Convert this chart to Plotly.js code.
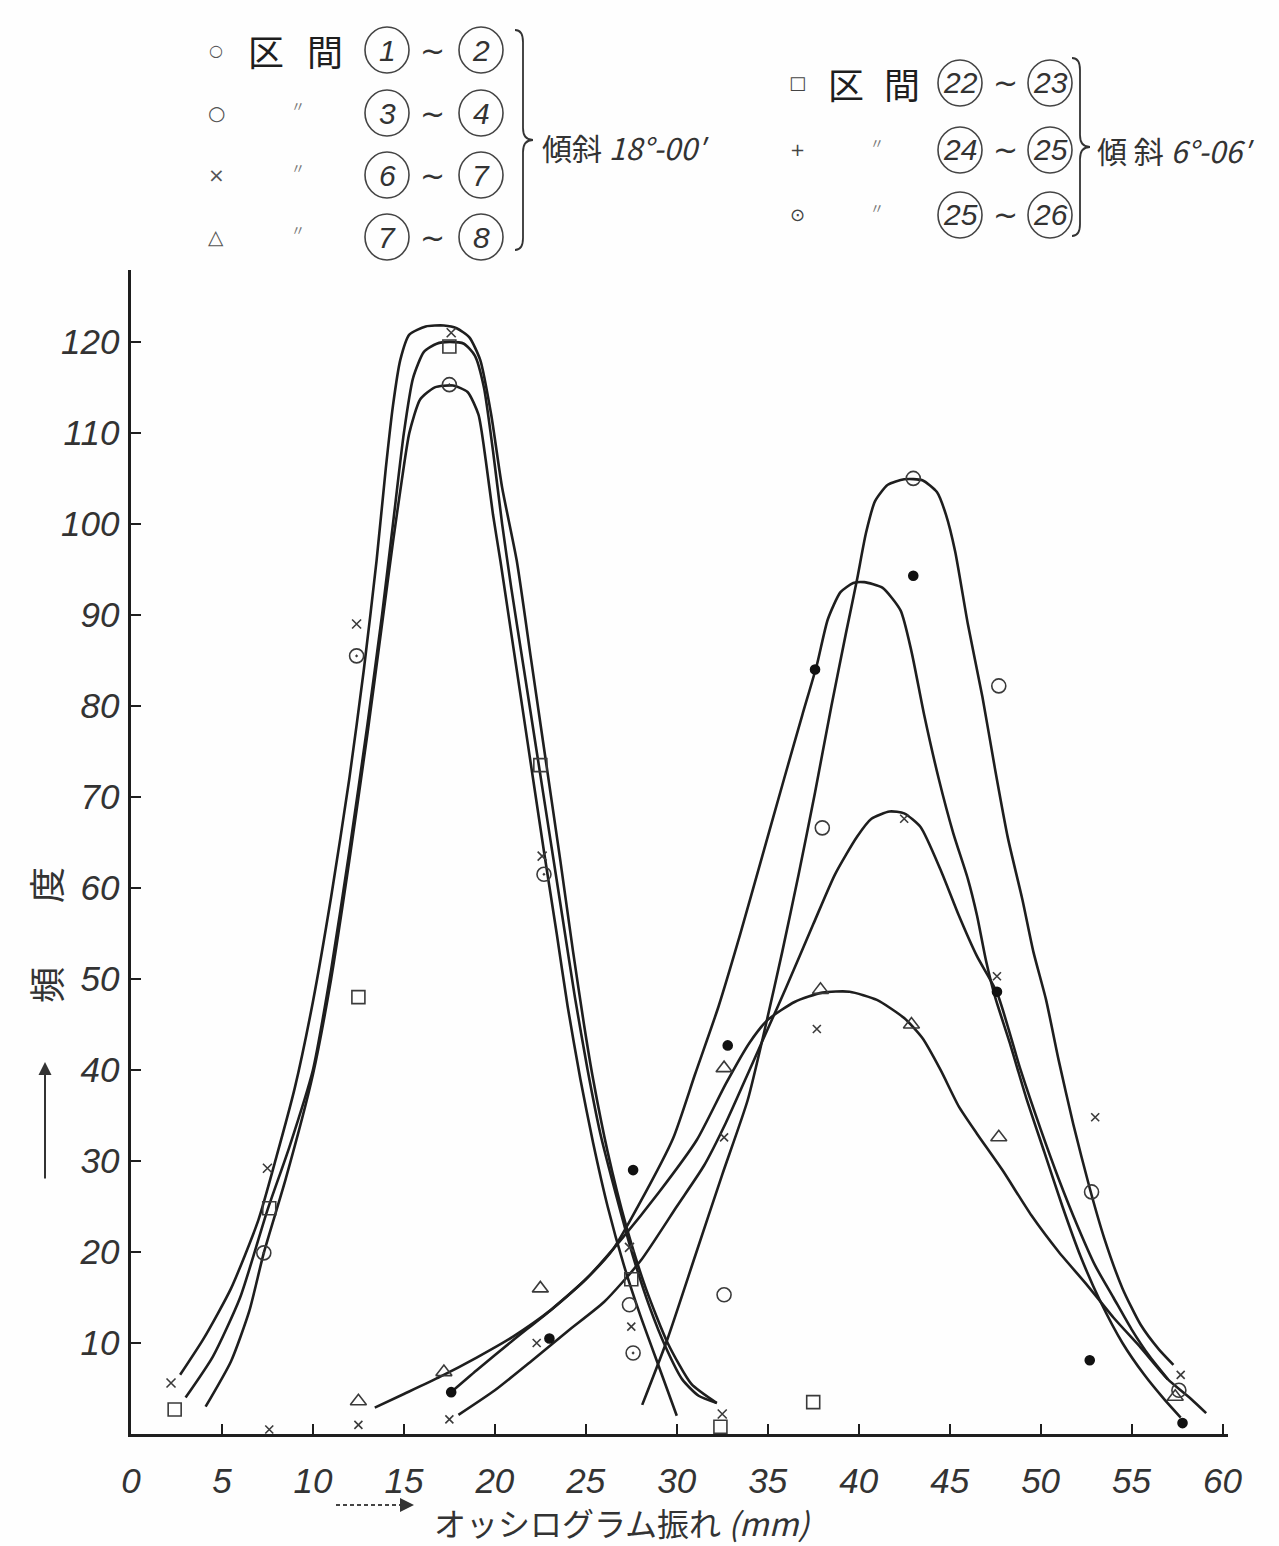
<!DOCTYPE html>
<html>
<head>
<meta charset="utf-8">
<script src="https://cdn.plot.ly/plotly-3.0.1.min.js"></script>
<style>body{margin:0;background:#fefefe;} #chart{width:1279px;height:1546px;}</style>
</head>
<body>
<div id="chart"></div>
<script>
// ---------- tick labels ----------
const xTickVals = [0,5,10,15,20,25,30,35,40,45,50,55,60];
const xTickText = ["0","5","10","15","20","25","30","35","40","45","50","55","60"];
const yTickVals = [10,20,30,40,50,60,70,80,90,100,110,120];
const yTickText = ["10","20","30","40","50","60","70","80","90","100","110","120"];

// ---------- observed points ----------
// 区間 22~23 (□)
const s2223X = [2.4, 7.6, 12.5, 17.5, 22.5, 27.5, 32.4, 37.5];
const s2223Y = [2.7, 24.8, 48.0, 119.5, 73.5, 17.0, 0.8, 3.5];
// 区間 24~25 (+)
const s2425X = [2.2, 7.5, 12.4, 17.6, 22.6, 27.4, 32.5];
const s2425Y = [5.6, 29.2, 89.0, 121.0, 63.5, 20.5, 2.2];
// 区間 25~26 (⊙)
const s2526X = [7.3, 12.4, 17.5, 22.7, 27.6];
const s2526Y = [19.9, 85.5, 115.3, 61.5, 8.9];
// 区間 1~2 (●)
const s0102X = [17.6, 23.0, 27.6, 32.8, 37.6, 43.0, 47.6, 52.7, 57.8];
const s0102Y = [4.6, 10.5, 29.0, 42.7, 84.0, 94.3, 48.6, 8.1, 1.2];
// 区間 3~4 (○)
const s0304X = [27.4, 32.6, 38.0, 43.0, 47.7, 52.8, 57.6];
const s0304Y = [14.2, 15.3, 66.6, 105.0, 82.2, 26.6, 4.8];
// 区間 6~7 (×)
const s0607X = [7.6, 12.5, 17.5, 22.3, 27.5, 32.6, 37.7, 42.5, 47.6, 53.0, 57.7];
const s0607Y = [0.5, 1.0, 1.6, 10.0, 11.8, 32.6, 44.5, 67.6, 50.3, 34.8, 6.5];
// 区間 7~8 (△)
const s0708X = [12.5, 17.2, 22.5, 32.6, 37.9, 42.9, 47.7, 57.4];
const s0708Y = [3.6, 6.8, 16.0, 40.2, 48.8, 45.0, 32.6, 4.1];

// ---------- hand-drawn curves ----------
const cL2425X = [2.7,4,5.5,7,8,9,10,11,12,12.8,13.5,14,14.4,14.8,15.3,16.2,17.2,17.9,18.6,19.2,19.8,20.4,21.2,22,22.8,23.6,24.3,24.9,25.4,26.2,27.2,28.3,29.5,30.8,32.2];
const cL2425Y = [6.5,10.5,16,23.5,30.5,38,47.5,59,72,84,96,106,113,118,120.8,121.7,121.8,121.5,120.5,118,112,104,96,85,74,63,53,45,39,31,23,16,10,5.5,3.4];
const cL2223X = [3,4.5,6,7.5,8.7,10,11,12,13,13.8,14.4,15,15.5,16.1,16.8,17.5,18.3,18.9,19.4,19.9,20.4,20.9,21.6,22.3,23,23.7,24.4,25.1,25.8,26.7,27.6,28.5,29.4,30.3,31.2,32.2];
const cL2223Y = [4,8.5,15,24.6,31.5,40,51,64,78,90,100,110,116,118.9,119.8,120,119.8,118.5,115,108,100,93,84,75,66,57,48,40,33,26,19.5,14,9.5,6,4.2,3.4];
const cL2526X = [4.1,5.5,6.5,7.3,8.5,10,11,12,13,13.8,14.4,14.9,15.3,15.9,16.7,17.7,18.5,19.1,19.5,19.9,20.3,20.9,21.5,22.1,22.7,23.4,24,24.7,25.4,26.2,27.1,28,29,30];
const cL2526Y = [3,8,13.5,19.9,28,39.5,50,63,77,89,98,105,110,113.7,115,115.2,114.5,112,107,101,96,88,80,72,64,55,47,39,32,25,18.5,13,7.5,2];

const cR0304X = [28.1,29.5,31,32.5,33.9,34.9,35.8,36.7,37.6,38.5,39.3,39.9,40.4,40.9,41.6,42.5,43.5,44.3,44.8,45.3,46,46.8,47.5,48.2,49,49.6,50.3,51,51.8,52.7,53.5,54.5,55.5,56.5,57.3];
const cR0304Y = [3.2,10.5,19.5,28.5,36.7,45,53,61.5,70.5,80,88,93.8,99,102.5,104.3,104.9,104.8,103.5,101,97,89,81,73,65.5,58.7,53,47.7,41,34,27,21.5,16,12,9.3,7.6];
const cR0102X = [17.6,19,21,23,25,26.5,28,29.8,31,32.3,33.5,34.7,35.9,36.9,37.7,38.3,39,39.7,40.3,41.3,42.3,42.9,43.6,44.4,45.2,46,46.5,47,47.5,48.3,49.2,50.2,51.2,52.2,53.3,54.5,55.7,56.8,57.7];
const cR0102Y = [4.6,7,10.3,13.5,17,20.3,25.5,32.5,39.5,47,55,63.5,72,79,84.5,89.5,92.5,93.5,93.6,93,90.5,86,79,72,66,61,57,52,48,43,37,31,25,19.5,14.5,10,6.5,3.8,1.8];
const cR0607X = [18,20,22,24,26,28,30,31.5,32.7,34,35,36,37.5,38.7,39.9,40.7,41.7,42.5,43.4,44.5,45.5,46.5,47.6,48.9,50,51,52,53,54,55,56,57];
const cR0607Y = [2.1,4.8,8,11.3,14.5,19,25,29.5,34.2,40,44.5,49,56,61.5,65.6,67.6,68.4,68.2,66.7,62,57,52.5,48.5,40,33.5,28,23,18.5,15,11.5,8.5,6];
const cR0708X = [13.4,15,17,19,21,23,25,27,29,31.1,32.7,34,35,36.5,38,39.5,41,42.5,43.5,44.5,45.5,46.5,47.9,49.5,51,52.5,54,55.5,57,58.3,59.1];
const cR0708Y = [2.9,4.4,6.3,8.4,10.7,13.5,17,21.5,26.5,32.3,38.5,43,45.5,47.5,48.5,48.6,47.7,45.7,43.5,40,36,33,29,24,20,16.5,12.8,9.5,6,3.8,2.3];

// ---------- text ----------
const legendLeftMarks = ["○","○","×","△"];
const legendLeftPairs = [["1","2"],["3","4"],["6","7"],["7","8"]];
const legendRightMarks = ["□","+","⊙"];
const legendRightPairs = [["22","23"],["24","25"],["25","26"]];
const slopeLeftText = "傾斜 <i>18°-00′</i>";
const slopeRightText = "傾 斜 <i>6°-06′</i>";
const xTitleText = "オッシログラム振れ <i>(mm)</i>";
const yTitleChars = ["頻","度"];

// ---------- geometry helpers (pixel -> paper) ----------
const PL = 131, PR = 1228, PT = 270, PB = 1434;
const px = v => (v - PL) / (PR - PL);
const py = v => (PB - v) / (PB - PT);

const INK = "#1e1e1e";
const MARK = "#3a3a3a";
const NUM = "Liberation Sans Narrow, Liberation Sans, Arial Narrow, sans-serif";
const JP = "Noto Sans CJK JP, Noto Sans CJK SC, sans-serif";

function curve(x, y) {
  return {x: x, y: y, type: "scatter", mode: "lines", showlegend: false, hoverinfo: "skip",
    line: {color: INK, width: 2.6, shape: "spline", smoothing: 0.6}};
}
function pts(x, y, symbol, size, filled) {
  return {x: x, y: y, type: "scatter", mode: "markers", showlegend: false, cliponaxis: false,
    marker: {symbol: symbol, size: size, color: filled ? "#111" : MARK,
      line: {color: filled ? "#111" : MARK, width: 1.6}}};
}

const traces = [
  curve(cL2425X, cL2425Y), curve(cL2223X, cL2223Y), curve(cL2526X, cL2526Y),
  curve(cR0304X, cR0304Y), curve(cR0102X, cR0102Y), curve(cR0607X, cR0607Y), curve(cR0708X, cR0708Y),
  pts(s2223X, s2223Y, "square-open", 13, false),
  pts(s2425X, s2425Y, "x-thin-open", 9, false),
  pts(s2526X, s2526Y, "circle-open-dot", 14, false),
  pts(s0102X, s0102Y, "circle", 9, true),
  pts(s0304X, s0304Y, "circle-open", 14, false),
  pts(s0607X, s0607Y, "x-thin-open", 8, false),
  pts(s0708X, s0708Y, "triangle-up-open", 14, false)
];

const annotations = [];
const shapes = [];
function txt(text, x, y, size, opts) {
  annotations.push(Object.assign({xref: "paper", yref: "paper", x: px(x), y: py(y), text: text,
    showarrow: false, xanchor: "center", yanchor: "middle",
    font: {family: JP, size: size, color: INK}}, opts || {}));
}
function circled(num, cx, cy) {
  shapes.push({type: "circle", xref: "paper", yref: "paper",
    x0: px(cx - 22), x1: px(cx + 22), y0: py(cy + 23), y1: py(cy - 23),
    line: {color: "#444", width: 1.6}});
  txt("<i>" + num + "</i>", cx, cy, 30, {font: {family: NUM, size: 30, color: "#333"}});
}

// left legend
const leftRowsY = [50, 113, 175, 237];
legendLeftMarks.forEach((m, i) => {
  const y = leftRowsY[i];
  txt(m, 216, y, i === 0 ? 16 : 20, {font: {family: "DejaVu Sans", size: i === 0 ? 16 : 20, color: "#555"}});
  if (i === 0) { txt("区", 266, y, 36); txt("間", 325, y, 36); }
  else { txt("〃", 298, y - 8, 14, {font: {family: JP, size: 14, color: "#777"}}); }
  circled(legendLeftPairs[i][0], 387, y);
  txt("~", 432, y, 30, {font: {family: "DejaVu Sans", size: 30, color: "#333"}});
  circled(legendLeftPairs[i][1], 481, y);
});
txt(slopeLeftText, 540, 147, 30, {xanchor: "left", font: {family: JP, size: 30, color: "#333"}});

// right legend
const rightRowsY = [83, 150, 215];
legendRightMarks.forEach((m, i) => {
  const y = rightRowsY[i];
  txt(m, 797, y, 18, {font: {family: "DejaVu Sans", size: 18, color: "#444"}});
  if (i === 0) { txt("区", 846, y, 36); txt("間", 902, y, 36); }
  else { txt("〃", 877, y - 8, 14, {font: {family: JP, size: 14, color: "#777"}}); }
  circled(legendRightPairs[i][0], 960, y);
  txt("~", 1005, y, 30, {font: {family: "DejaVu Sans", size: 30, color: "#333"}});
  circled(legendRightPairs[i][1], 1050, y);
});
txt(slopeRightText, 1095, 150, 30, {xanchor: "left", font: {family: JP, size: 30, color: "#333"}});

// braces
function brace(x, yTop, yBot, tipX) {
  const yMid = (yTop + yBot) / 2;
  const P = (a, b) => px(a) + "," + py(b);
  const path = "M " + P(x - 8, yTop) + " Q " + P(x, yTop) + " " + P(x, yTop + 12) +
    " L " + P(x, yMid - 12) + " Q " + P(x, yMid) + " " + P(tipX, yMid) +
    " Q " + P(x, yMid) + " " + P(x, yMid + 12) +
    " L " + P(x, yBot - 12) + " Q " + P(x, yBot) + " " + P(x - 8, yBot);
  shapes.push({type: "path", xref: "paper", yref: "paper", path: path, line: {color: "#333", width: 1.8}});
}
brace(523, 30, 250, 533);
brace(1080, 58, 236, 1090);

// axis titles
txt(xTitleText, 622, 1522, 32, {font: {family: JP, size: 32, color: "#333"}});
shapes.push({type: "line", xref: "paper", yref: "paper", x0: px(336), x1: px(404), y0: py(1505), y1: py(1505),
  line: {color: "#444", width: 2, dash: "4px,3px"}});
annotations.push({xref: "paper", yref: "paper", x: px(414), y: py(1505), ax: -14, ay: 0, text: "",
  showarrow: true, arrowhead: 2, arrowsize: 1.4, arrowwidth: 2, arrowcolor: "#333"});
txt(yTitleChars[0], 45, 985, 36, {textangle: -90, font: {family: JP, size: 36, color: "#333"}});
txt(yTitleChars[1], 45, 885, 36, {textangle: -90, font: {family: JP, size: 36, color: "#333"}});
annotations.push({xref: "paper", yref: "paper", x: px(45), y: py(1062), ax: 0, ay: 118, text: "",
  showarrow: true, arrowhead: 2, arrowsize: 1.3, arrowwidth: 2, arrowcolor: "#333"});

const tickFont = {family: NUM, size: 35, color: "#333", style: "italic"};
const layout = {
  width: 1279, height: 1546,
  margin: {l: PL, r: 1279 - PR, t: PT, b: 1546 - PB},
  paper_bgcolor: "#fefefe", plot_bgcolor: "#fefefe",
  showlegend: false,
  xaxis: {range: [0, 60.3], tickvals: xTickVals, ticktext: xTickText, ticks: "inside", ticklen: 10,
    tickwidth: 2, tickcolor: INK, showline: true, linecolor: INK, linewidth: 2.6, showgrid: false,
    zeroline: false, tickfont: tickFont, ticklabelstandoff: 14, fixedrange: true},
  yaxis: {range: [0, 127.9], tickvals: yTickVals, ticktext: yTickText, ticks: "inside", ticklen: 10,
    tickwidth: 2, tickcolor: INK, showline: true, linecolor: INK, linewidth: 2.6, showgrid: false,
    zeroline: false, tickfont: tickFont, ticklabelstandoff: 2, fixedrange: true},
  annotations: annotations,
  shapes: shapes
};
Plotly.newPlot("chart", traces, layout, {staticPlot: true});
</script>
</body>
</html>
